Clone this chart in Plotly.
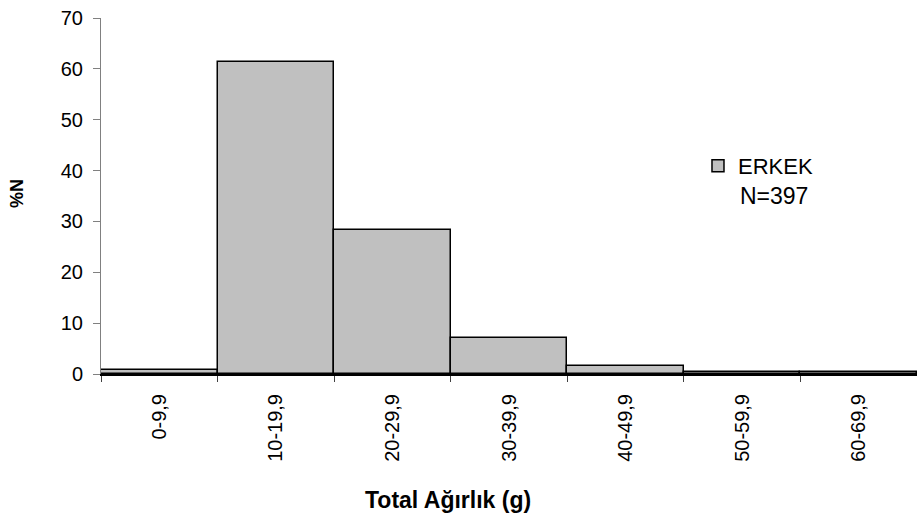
import plotly.graph_objects as go

categories = ["0-9,9", "10-19,9", "20-29,9", "30-39,9", "40-49,9", "50-59,9", "60-69,9"]
values = [0.8, 61.3, 28.3, 7.1, 1.6, 0.3, 0.3]
series_name = "ERKEK"
n_label = "N=397"
x_title = "Total Ağırlık (g)"
y_title = "%N"

font_family = "Liberation Sans, Arial, sans-serif"

fig = go.Figure()
fig.add_trace(go.Bar(
    x=categories, y=values, name=series_name,
    marker=dict(color="#C0C0C0", line=dict(color="black", width=1.5)),
    showlegend=True,
))

fig.update_layout(
    width=917, height=516,
    margin=dict(l=101, r=0, t=18, b=142),
    paper_bgcolor="white", plot_bgcolor="white",
    bargap=0,
    font=dict(family=font_family, color="black", size=16),
    showlegend=True,
    legend=dict(x=0.7316, y=(374 - 166) / 356, xanchor="left", yanchor="middle",
                bgcolor="rgba(0,0,0,0)", font=dict(size=22),
                itemwidth=30),
    annotations=[
        dict(text=n_label, x=(738 - 101) / 816, y=(374 - 196) / 356, xref="paper", yref="paper",
             xanchor="left", yanchor="middle", showarrow=False, font=dict(size=23)),
        dict(text="<b>" + x_title + "</b>", x=(448 - 101) / 816, y=(374 - 500) / 356,
             xref="paper", yref="paper", xanchor="center", yanchor="middle",
             showarrow=False, font=dict(size=23)),
        dict(text="<b>" + y_title + "</b>", x=(17 - 101) / 816, y=(374 - 194) / 356,
             xref="paper", yref="paper", xanchor="center", yanchor="middle",
             showarrow=False, textangle=-90, font=dict(size=18)),
    ],
)
fig.update_xaxes(
    type="category", automargin=False,
    showline=True, linecolor="black", linewidth=2,
    ticks="outside", tickson="boundaries", ticklen=6, tickcolor="#404040",
    tickangle=-90, tickfont=dict(size=20), ticklabelstandoff=10,
    showgrid=False,
)
fig.update_yaxes(
    range=[0, 70], dtick=10, automargin=False,
    showline=True, linecolor="#808080", linewidth=1,
    ticks="outside", ticklen=7, tickcolor="#808080",
    tickfont=dict(size=20), ticklabelstandoff=6,
    showgrid=False, zeroline=False,
)

fig.write_html(
    "out.html",
    config={"displayModeBar": False},
    post_script="document.body.style.margin='0';document.body.style.overflow='hidden';",
)
